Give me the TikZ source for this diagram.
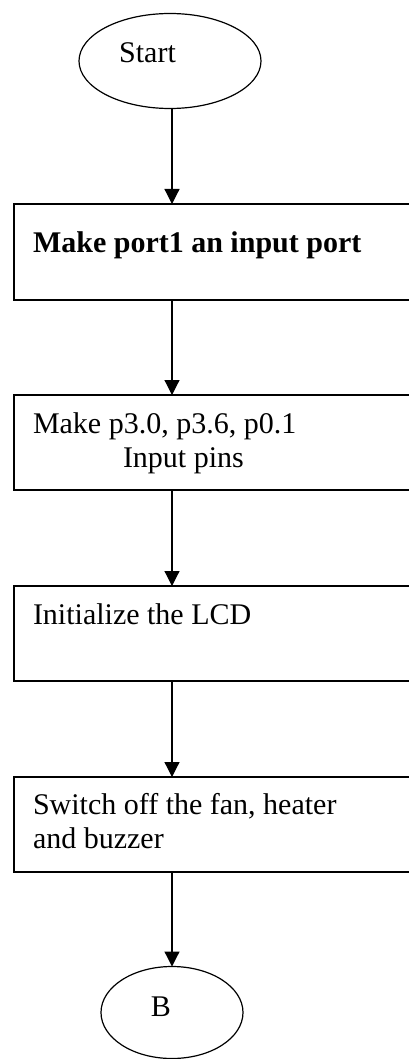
\documentclass[tikz,border=0pt]{standalone}
\usepackage{fontspec}
\setmainfont{Liberation Serif}
\usetikzlibrary{shapes.geometric,arrows.meta}
\begin{document}
\begin{tikzpicture}[x=1pt,y=-1pt,
  every node/.style={inner sep=0pt,outer sep=0pt},
  term/.style={draw,ellipse,line width=1.2pt},
  procbox/.style={draw,rectangle,line width=1.2pt,minimum width=398pt,minimum height=96pt,anchor=north west},
  txt/.style={anchor=base west,font=\fontsize{30}{34}\selectfont},
  flow/.style={line width=1.2pt,-{Triangle[width=15pt,length=15pt]}}]
  % page frame
  \clip (0,0) rectangle (409,1059);
  \fill[white] (0,0) rectangle (409,1059);

  % terminal: start
  \node[term,minimum width=182pt,minimum height=95pt] (start) at (170,61) {};
  \node[txt,anchor=base] (startlbl) at (147.5,63) {Start};

  % process boxes
  \node[procbox] (port) at (14,204) {};
  \node[txt] (porttxt) at (33,252) {\bfseries Make port1 an input port};

  \node[procbox,minimum height=95pt] (pins) at (14,395) {};
  \node[txt] (pinsa) at (33,433) {Make p3.0, p3.6, p0.1};
  \node[txt] (pinsb) at (123,467) {Input pins};

  \node[procbox,minimum height=95pt] (lcd) at (14,586) {};
  \node[txt] (lcdtxt) at (33,624) {Initialize the LCD};

  \node[procbox,minimum height=95pt] (off) at (14,777) {};
  \node[txt] (offa) at (33,814) {Switch off the fan, heater};
  \node[txt] (offb) at (33,848) {and buzzer};

  % connector: B
  \node[term,minimum width=142pt,minimum height=92pt] (conn) at (172,1012.5) {};
  \node[txt,anchor=base] (connlbl) at (161,1016) {B};

  % flow lines
  \coordinate (axis) at (172,0);
  \draw[flow] (axis |- start.south) -- (axis |- port.north);
  \draw[flow] (axis |- port.south) -- (axis |- pins.north);
  \draw[flow] (axis |- pins.south) -- (axis |- lcd.north);
  \draw[flow] (axis |- lcd.south) -- (axis |- off.north);
  \draw[flow] (axis |- off.south) -- (conn.north);
\end{tikzpicture}
\end{document}
